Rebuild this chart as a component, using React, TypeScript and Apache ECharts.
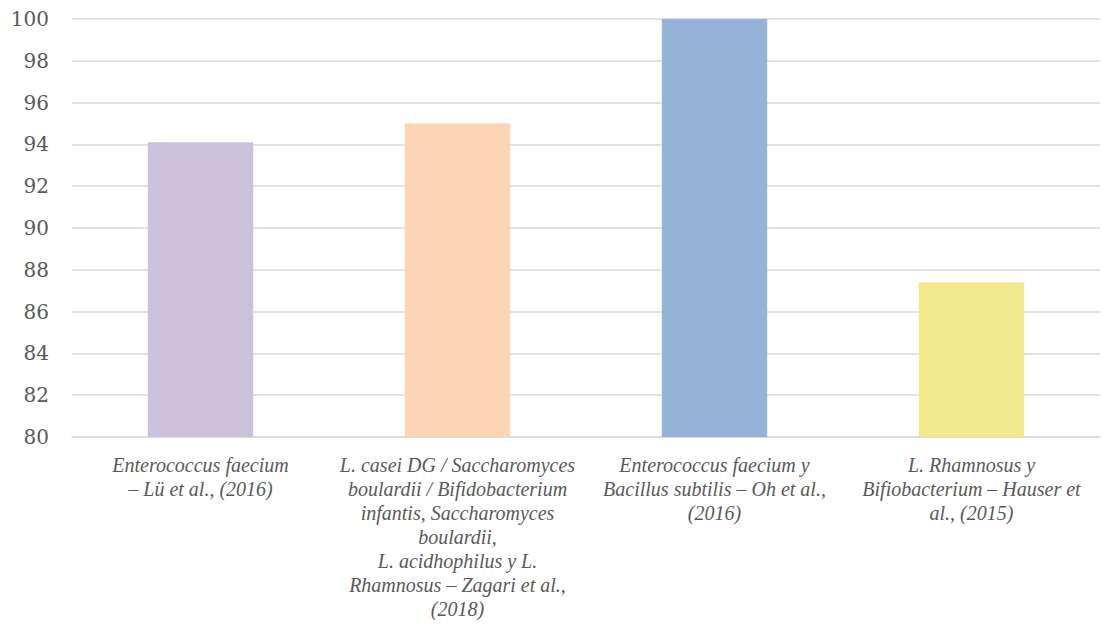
import React, { useEffect, useRef } from "react";
import * as echarts from "echarts";

const categories = [
  "Enterococcus faecium\n– Lü et al., (2016)",
  "L. casei DG / Saccharomyces\nboulardii / Bifidobacterium\ninfantis, Saccharomyces\nboulardii,\nL. acidhophilus y L.\nRhamnosus – Zagari et al.,\n(2018)",
  "Enterococcus faecium y\nBacillus subtilis – Oh et al.,\n(2016)",
  "L. Rhamnosus y\nBifiobacterium – Hauser et\nal., (2015)",
];
const values = [94.1, 95.0, 100, 87.4];
const colors = ["#CBC1DA", "#FCD5B4", "#95B3D7", "#F4E88C"];

export default function App() {
  const ref = useRef<HTMLDivElement>(null);
  useEffect(() => {
    if (!ref.current) return;
    const chart = echarts.init(ref.current, null, { renderer: "svg" });
    chart.setOption({
      animation: false,
      backgroundColor: "#ffffff",
      grid: { left: 72, right: 3, top: 19, bottom: 187 },
      xAxis: {
        type: "category",
        data: categories,
        axisLine: { show: true, lineStyle: { color: "#D9D9D9", width: 1.5 } },
        axisTick: { show: false },
        axisLabel: {
          interval: 0,
          margin: 16,
          color: "#595959",
          fontFamily: "'Liberation Serif', 'Times New Roman', serif",
          fontStyle: "italic",
          fontSize: 20,
          lineHeight: 24,
          align: "center",
        },
      },
      yAxis: {
        type: "value",
        min: 80,
        max: 100,
        interval: 2,
        axisLine: { show: false },
        axisTick: { show: false },
        splitLine: { lineStyle: { color: "#D9D9D9", width: 1.5 } },
        axisLabel: {
          margin: 23,
          color: "#595959",
          fontFamily: "'DejaVu Serif', serif",
          fontSize: 20,
        },
      },
      series: [
        {
          type: "bar",
          barWidth: "41%",
          data: values.map((v, i) => ({ value: v, itemStyle: { color: colors[i] } })),
        },
      ],
    });
    return () => chart.dispose();
  }, []);
  return (
    <div
      ref={ref}
      style={{ position: "fixed", left: 0, top: 0, width: 1103, height: 624 }}
    />
  );
}
